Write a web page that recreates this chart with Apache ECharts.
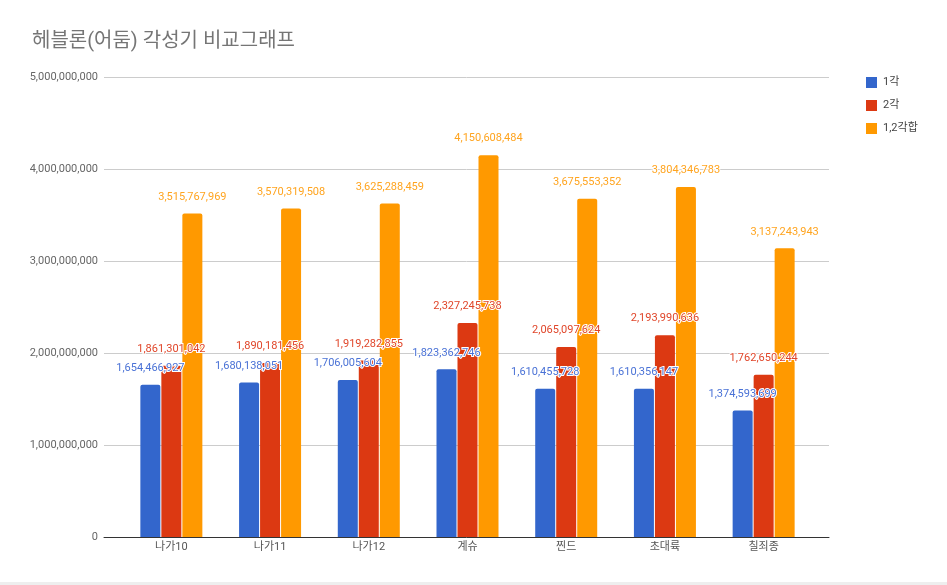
<!DOCTYPE html>
<html>
<head>
<meta charset="utf-8">
<script src="https://cdn.jsdelivr.net/npm/echarts@6/dist/echarts.min.js"></script>
<style>
html,body{margin:0;padding:0;background:#fff;}
#main{width:947px;height:585px;}
</style>
</head>
<body>
<div id="main"></div>
<script>
const titleText = '헤블론(어둠) 각성기 비교그래프';
const categories = ['나가10', '나가11', '나가12', '계슈', '찐드', '초대륙', '칠죄종'];
const seriesNames = ['1각', '2각', '1,2각합'];
const awakening1 = [1654466927, 1680138051, 1706005604, 1823362746, 1610455728, 1610356147, 1374593699];
const awakening2 = [1861301042, 1890181456, 1919282855, 2327245738, 2065097624, 2193990636, 1762650244];
const awakeningSum = [3515767969, 3570319508, 3625288459, 4150608484, 3675553352, 3804346783, 3137243943];
const yTicks = { min: 0, max: 5000000000, interval: 1000000000 };

const barColors = ['#3366cc', '#dc3912', '#ff9900'];
const labelColors = ['#4a72d6', '#e0462a', '#ffa41f'];
const fmt = v => Number(v).toLocaleString('en-US');
const FONT = 'Roboto, "Noto Sans CJK KR", sans-serif';

const chart = echarts.init(document.getElementById('main'));
const dataSets = [awakening1, awakening2, awakeningSum];

chart.setOption({
  animation: false,
  backgroundColor: '#fff',
  textStyle: { fontFamily: FONT },
  title: {
    text: titleText,
    left: 27, top: 27,
    textStyle: { fontSize: 20, fontWeight: 'normal', color: '#757575', fontFamily: FONT }
  },
  legend: {
    orient: 'vertical',
    left: 861, top: 72,
    itemWidth: 11, itemHeight: 11, itemGap: 12,
    icon: 'rect',
    data: seriesNames,
    textStyle: { fontSize: 11, color: '#444', fontFamily: FONT, padding: [0, 0, 0, 1] }
  },
  grid: [
    { left: 104, right: 118, top: 77, bottom: 48 },
    { left: 122, right: 134, top: 77, bottom: 48 }
  ],
  xAxis: [
    {
      type: 'category', gridIndex: 0, data: categories,
      axisLine: { lineStyle: { color: '#333', width: 1 } },
      axisTick: { show: false }, axisLabel: { show: false }
    },
    {
      type: 'category', gridIndex: 1, data: categories,
      axisLine: { show: false }, axisTick: { show: false },
      axisLabel: { fontSize: 11, color: '#555', margin: 5, fontFamily: FONT }
    }
  ],
  yAxis: [
    {
      type: 'value', gridIndex: 0, min: yTicks.min, max: yTicks.max, interval: yTicks.interval,
      axisLine: { show: false }, axisTick: { show: false },
      axisLabel: { fontSize: 11, color: '#666', margin: 6, formatter: fmt, fontFamily: FONT },
      splitLine: { lineStyle: { color: '#cccccc' } }
    },
    {
      type: 'value', gridIndex: 1, min: yTicks.min, max: yTicks.max, interval: yTicks.interval,
      show: false, splitLine: { show: false }
    }
  ],
  series: seriesNames.map((name, i) => ({
    name,
    type: 'bar',
    xAxisIndex: 1, yAxisIndex: 1,
    data: dataSets[i],
    barWidth: 20,
    barGap: '5%',
    itemStyle: { color: barColors[i], borderRadius: [2, 2, 0, 0] },
    label: {
      show: true, position: 'top', distance: 11,
      formatter: p => fmt(p.value),
      fontSize: 11, color: labelColors[i], fontFamily: FONT,
      textBorderColor: '#fff', textBorderWidth: 2
    }
  })),
  graphic: [
    { type: 'rect', shape: { x: 0, y: 582, width: 947, height: 3 }, style: { fill: '#eeeeee' }, silent: true }
  ]
});
</script>
</body>
</html>
